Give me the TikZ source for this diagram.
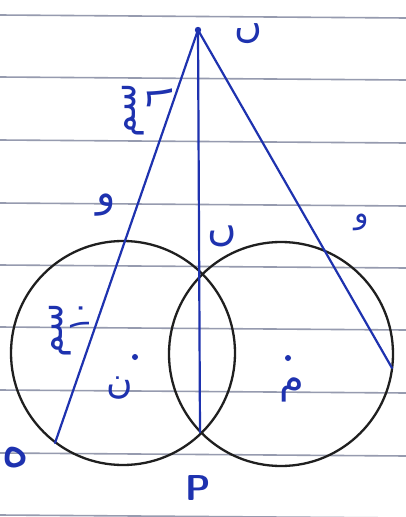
\documentclass[tikz,border=0pt]{standalone}
\usepackage{fontspec}
\newfontfamily\arabicfont[Script=Arabic]{DejaVu Sans}
\TeXXeTstate=1
\begin{document}
\begin{tikzpicture}[x=1pt,y=-1pt,
  pen/.style={draw={rgb,255:red,30;green,50;blue,175}, line width=2.2pt, line cap=round},
  circ/.style={draw=black!88, line width=2.3pt},
  ruling/.style={draw={rgb,255:red,150;green,155;blue,175}, line width=1.6pt},
  lbl/.style={text={rgb,255:red,30;green,50;blue,175}, font=\arabicfont\fontsize{32}{34}\selectfont, inner sep=0pt},
  dotmark/.style={fill={rgb,255:red,30;green,50;blue,175}}]
\fill[white] (0,0) rectangle (406,517);
\useasboundingbox (0,0) rectangle (406,517);
% ruled paper
\foreach \yy in {15,77,140,203,265,327,390,453,515}
  \draw[ruling] (0,\yy) -- (406,\yy+3);
% points
\coordinate (B) at (198,30);
\coordinate (P) at (200,432);
\coordinate (Q) at (55,443);
\coordinate (R) at (392,368);
\coordinate (N) at (123,353);
\coordinate (M) at (281,354);
% circles
\draw[circ] (N) circle [radius=112];
\draw[circ] (M) circle [radius=112];
% pen lines
\draw[pen] (B) -- (Q);
\draw[pen] (B) -- (P);
\draw[pen] (B) -- (R);
\fill[dotmark] (B) circle (3.2);
% centre dots
\coordinate (dN) at (135,357);
\coordinate (dM) at (288,358);
\fill[dotmark] (dN) circle (3);
\fill[dotmark] (dM) circle (3);
% labels
\node[lbl, font=\arabicfont\fontsize{38}{40}\selectfont] (lB) at (248,34) {\beginR ں\endR};
\node[lbl, font=\arabicfont\fontsize{40}{42}\selectfont] (lC) at (106,205) {\beginR و\endR};
\node[lbl, font=\arabicfont\fontsize{40}{42}\selectfont] (lU) at (222,236) {\beginR ں\endR};
\node[lbl, font=\arabicfont\fontsize{30}{32}\selectfont] (lE) at (362,222) {\beginR و\endR};
\node[lbl, rotate=90, font=\arabicfont\fontsize{36}{38}\selectfont] (cm1) at (133,110) {\beginR سم\endR};
\node[lbl, rotate=90, font=\arabicfont\fontsize{40}{42}\selectfont] (n6) at (160,98) {٦};
\node[lbl, rotate=90, font=\arabicfont\fontsize{36}{38}\selectfont] (cm2) at (60,330) {\beginR سم\endR};
\node[lbl, rotate=90, font=\arabicfont\fontsize{30}{32}\selectfont] (n10) at (80,316) {١٠};
\node[lbl, font=\arabicfont\fontsize{36}{38}\selectfont] (lN) at (120,388) {\beginR ن\endR};
\node[lbl, font=\arabicfont\fontsize{40}{42}\selectfont] (lM) at (292,390) {\beginR م\endR};
\node[lbl, font=\arabicfont\fontsize{54}{56}\selectfont] (lQ) at (16,458) {\beginR ه\endR};
\node[lbl, font=\sffamily\bfseries\fontsize{36}{38}\selectfont] (lP) at (198,488) {P};
\end{tikzpicture}
\end{document}
